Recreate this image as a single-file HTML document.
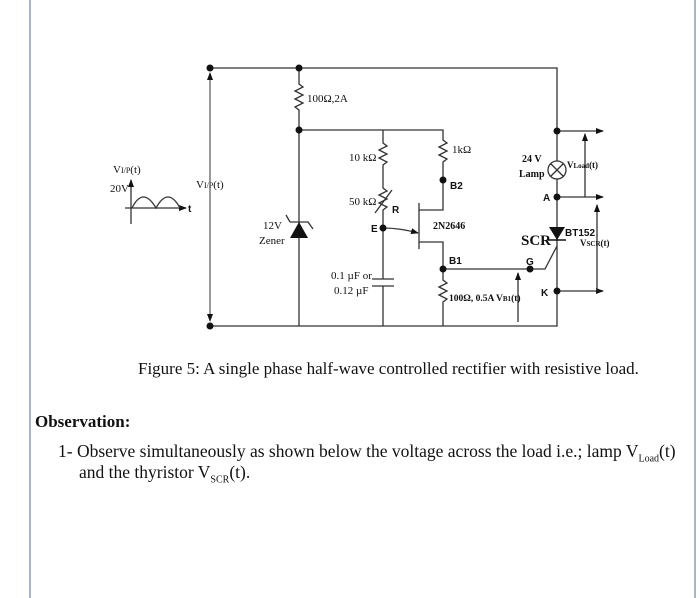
<!DOCTYPE html>
<html><head><meta charset="utf-8"><style>
html,body{margin:0;padding:0;background:#fff;}
body{width:700px;height:598px;position:relative;overflow:hidden;font-family:"Liberation Serif",serif;}
.b{position:absolute;top:0;bottom:0;width:2px;background:#aab4c4;}
.t{position:absolute;color:#111;white-space:nowrap;}
</style></head><body>
<div class="b" style="left:29px"></div>
<div class="b" style="left:694px"></div>
<svg width="700" height="598" style="position:absolute;left:0;top:0" font-family="Liberation Serif, serif">
<defs><marker id="ar" markerWidth="8" markerHeight="8" refX="7" refY="4" orient="auto" markerUnits="userSpaceOnUse"><path d="M0,1 L8,4 L0,7z" fill="#111"/></marker></defs>
<g stroke="#333" stroke-width="1.3" fill="none">
<path d="M210,68 H557 V326 H210"/>
<path d="M299,68 V84 l4,3 l-8,4 l8,4 l-8,4 l8,4 l-8,4 l4,3 V326"/>
<path d="M299,130 H443 V140 l4,3 l-8,4 l8,4 l-8,4 l8,4 l-4,3 V210 H419"/>
<path d="M383,130 V143 l4,3 l-8,4 l8,4 l-8,4 l8,4 l-4,3 V188 l4,3 l-8,4 l8,4 l-8,4 l8,4 l-4,3 V279 M383,286 V326"/>
<path d="M372,279 H394 M372,286 H394"/>
<path d="M375,213 L392,190"/>
<path d="M419,203 V249 M419,242 H443 V280 l4,3 l-8,4 l8,4 l-8,4 l8,4 l-4,3 V326"/>
<path d="M383,228 Q400,228 418,233" marker-end="url(#ar)"/>
<path d="M443,269 H545 L557,246"/>
<path d="M131,224 V180" marker-end="url(#ar)"/>
<path d="M125,208 H186" marker-end="url(#ar)"/>
<path d="M132,208 Q143,186 156,208 Q168,186 180,208"/>
<path d="M210,80 V316" stroke-width="1"/>
<path d="M557,131 H603" marker-end="url(#ar)"/>
<path d="M557,197 H603" marker-end="url(#ar)"/>
<path d="M557,291 H603" marker-end="url(#ar)"/>
<path d="M585,197 V134" marker-end="url(#ar)"/>
<path d="M597,291 V205" marker-end="url(#ar)"/>
<path d="M518,322 V273" marker-end="url(#ar)"/>
<path d="M290,222 L299,222 M299,222 H308 L313,229"/>
<path d="M290,222 L286,215"/>
</g>
<circle cx="557" cy="170" r="9" fill="#fff" stroke="#333" stroke-width="1.3"/>
<path d="M551,164 L563,176 M563,164 L551,176" stroke="#333" stroke-width="1.3"/>
<polygon points="290,238 308,238 299,222" fill="#111"/>
<polygon points="549,227 565,227 557,240" fill="#111"/>
<path d="M548,240 H566" stroke="#111" stroke-width="1.5"/>
<path d="M210,72 L207,80 L213,80z M210,322 L207,314 L213,314z" fill="#111"/>
<g fill="#111">
<circle cx="210" cy="68" r="3.5"/><circle cx="299" cy="68" r="3.5"/><circle cx="299" cy="130" r="3.5"/>
<circle cx="210" cy="326" r="3.5"/><circle cx="383" cy="228" r="3.5"/><circle cx="443" cy="180" r="3.5"/>
<circle cx="443" cy="269" r="3.5"/><circle cx="530" cy="269" r="3.5"/><circle cx="557" cy="131" r="3.5"/>
<circle cx="557" cy="197" r="3.5"/><circle cx="557" cy="291" r="3.5"/>
</g>
<g font-size="11" fill="#111">
<text x="307" y="102">100Ω,2A</text>
<text x="349" y="161">10 kΩ</text>
<text x="349" y="205">50 kΩ</text>
<text x="452" y="153">1kΩ</text>
<text x="113" y="173">V<tspan font-size="8">I/P</tspan>(t)</text>
<text x="110" y="192">20V</text>
<text x="196" y="188">V<tspan font-size="8">I/P</tspan>(t)</text>
<text x="263" y="229">12V</text><text x="259" y="244">Zener</text>
<text x="331" y="279">0.1 µF or</text><text x="334" y="294">0.12 µF</text>
<text x="433" y="229" font-weight="bold" font-size="10">2N2646</text>
<text x="522" y="162" font-weight="bold" font-size="10">24 V</text>
<text x="519" y="177" font-weight="bold" font-size="10">Lamp</text>
<text x="567" y="168" font-weight="bold" font-size="9">V<tspan font-size="7">Load</tspan>(t)</text>
<text x="580" y="246" font-weight="bold" font-size="9">V<tspan font-size="7">SCR</tspan>(t)</text>
<text x="449" y="301" font-weight="bold" font-size="9.5">100Ω, 0.5A  V<tspan font-size="7">B1</tspan>(t)</text>
<text x="521" y="245" font-weight="bold" font-size="15">SCR</text>
</g>
<g font-family="Liberation Sans, sans-serif" font-weight="bold" font-size="10" fill="#111">
<text x="188" y="212">t</text>
<text x="392" y="213">R</text>
<text x="371" y="232">E</text>
<text x="450" y="189">B2</text>
<text x="449" y="264">B1</text>
<text x="526" y="265">G</text>
<text x="543" y="201">A</text>
<text x="541" y="296">K</text>
<text x="565" y="236">BT152</text>
</g>
</svg>
<div class="t" style="left:138px;top:359px;font-size:17px;">Figure 5: A single phase half-wave controlled rectifier with resistive load.</div>
<div class="t" style="left:35px;top:412px;font-size:17px;font-weight:bold;">Observation:</div>
<div class="t" style="left:58px;top:441px;font-size:17.5px;">1- Observe simultaneously as shown below the voltage across the load i.e.; lamp V<sub style="font-size:10px">Load</sub>(t)</div>
<div class="t" style="left:79px;top:462px;font-size:17.5px;">and the thyristor V<sub style="font-size:10px">SCR</sub>(t).</div>
</body></html>
